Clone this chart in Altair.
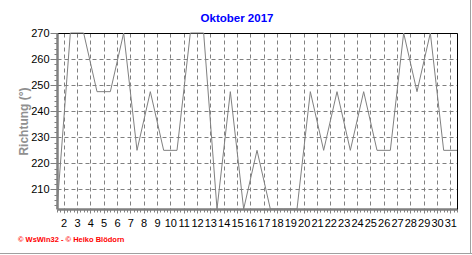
import altair as alt
import pandas as pd

# ---- data ----
tage = list(range(1, 32))
richtung = [202.5, 270, 270, 247.5, 247.5, 270, 225, 247.5, 225, 225,
            270, 270, 202.5, 247.5, 202.5, 225, 202.5, 202.5, 202.5, 247.5,
            225, 247.5, 225, 247.5, 225, 225, 270, 247.5, 270, 225, 225]
x_labels = list(range(2, 32))
y_labels = [210, 220, 230, 240, 250, 260, 270]
titel = "Oktober 2017"
y_titel = "Richtung (°)"
fusszeile = "© WsWin32  -  © Heiko Blödorn"

df = pd.DataFrame({"tag": tage, "richtung": richtung})

W, H = 400, 176
FONT = "Liberation Sans"
GRID = "#808080"

x_scale = alt.Scale(domain=[1, 31], nice=False, zero=False)
y_scale = alt.Scale(domain=[202.5, 270], nice=False, zero=False)

x_grid_vals = [k - 0.5 for k in x_labels]
x_minor_vals = [1 + i * 0.25 for i in range(0, 121)]
y_minor_vals = [v for v in range(204, 271, 2)]

base = alt.Chart(df)

line = base.mark_line(color="#808080", strokeWidth=1).encode(
    x=alt.X("tag:Q", scale=x_scale, axis=alt.Axis(
        orient="bottom", values=x_grid_vals,
        labelExpr="format(datum.value + 0.5, 'd')",
        grid=True, gridDash=[4, 3], gridColor=GRID, gridWidth=1,
        tickSize=4, tickColor=GRID, domainColor=GRID, domainWidth=2.5,
        labelFont=FONT, labelFontSize=11, labelColor="black",
        labelOverlap=False, labelFlush=False, labelPadding=4, title=None)),
    y=alt.Y("richtung:Q", scale=y_scale, axis=alt.Axis(
        orient="left", values=y_labels,
        grid=True, gridDash=[4, 3], gridColor=GRID, gridWidth=1,
        tickSize=7, tickColor=GRID, domainColor=GRID, domainWidth=2.5,
        labelFont=FONT, labelFontSize=11, labelColor="black",
        labelOverlap=False, labelFlush=False, labelPadding=1,
        title=y_titel, titleFont=FONT, titleFontSize=12, titleFontWeight="bold",
        titleColor="#909090", titleAngle=270, titleX=-34, titleY=88,
        titleAlign="center", titleBaseline="middle")),
)

minor = base.mark_point(opacity=0).encode(
    x=alt.X("tag:Q", scale=x_scale, axis=alt.Axis(
        orient="bottom", values=x_minor_vals, labels=False, grid=False,
        tickSize=3, tickColor=GRID, domain=False, title=None)),
    y=alt.Y("richtung:Q", scale=y_scale, axis=alt.Axis(
        orient="left", values=y_minor_vals, labels=False, grid=False,
        tickSize=3, tickColor=GRID, domain=False, title=None)),
)

frame = base.mark_point(opacity=0).encode(
    x=alt.X("tag:Q", scale=x_scale, axis=alt.Axis(
        orient="top", labels=False, ticks=False, grid=False,
        domainColor="black", domainWidth=1, title=None)),
    y=alt.Y("richtung:Q", scale=y_scale, axis=alt.Axis(
        orient="right", labels=False, ticks=False, grid=False,
        domainColor="black", domainWidth=1, title=None)),
)

texts = pd.DataFrame({"t": [fusszeile], "titel": [titel]})

title_mark = alt.Chart(texts).mark_text(
    align="center", baseline="middle", font=FONT, fontSize=11.5,
    fontWeight="bold", color="#0000ff"
).encode(x=alt.value(180), y=alt.value(-14), text="titel:N")

footer = alt.Chart(texts).mark_text(
    align="left", baseline="middle", font=FONT, fontSize=7.5,
    fontWeight="bold", color="#ff0000"
).encode(x=alt.value(-39), y=alt.value(207), text="t:N")

border_r = alt.Chart(texts).mark_rule(
    color="#a0a0a0", strokeWidth=1
).encode(x=alt.value(413.5), y=alt.value(-33), y2=alt.value(221))

border_b = alt.Chart(texts).mark_rule(
    color="#a0a0a0", strokeWidth=1
).encode(x=alt.value(-57), x2=alt.value(415), y=alt.value(220.5))

chart = alt.layer(line, minor, frame, title_mark, footer, border_r, border_b).resolve_axis(
    x="independent", y="independent"
).properties(
    width=W, height=H,
    autosize=alt.AutoSizeParams(type="none"),
    padding={"left": 57, "top": 33, "right": 15, "bottom": 46},
).configure_view(stroke=None)

chart.save("out.html", embed_options={"renderer": "svg", "actions": False})
